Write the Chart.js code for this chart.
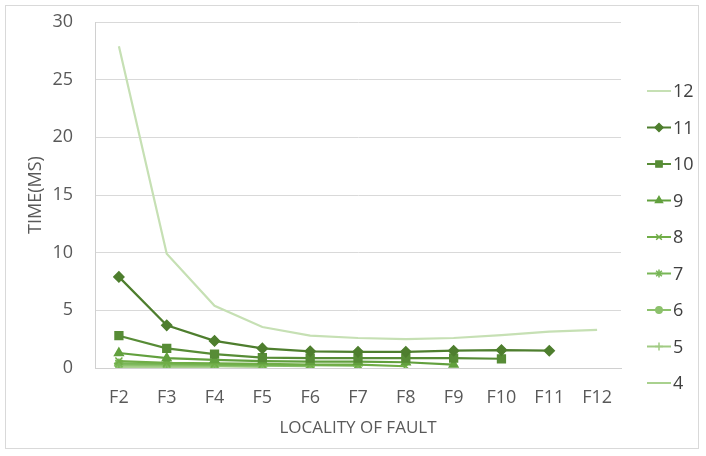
<!DOCTYPE html>
<html>
<head>
<meta charset="utf-8">
<script src="https://cdn.jsdelivr.net/npm/chart.js@4/dist/chart.umd.min.js"></script>
<style>
  html, body { margin: 0; padding: 0; background: #fff; }
  #wrap { position: relative; width: 706px; height: 456px; }
  #frame { position: absolute; left: 5px; top: 5px; width: 694px; height: 444px; border: 1px solid #d9d9d9; box-sizing: border-box; }
  #chart { position: absolute; left: 0; top: 0; }
</style>
</head>
<body>
<div id="wrap">
  <div id="frame"></div>
  <canvas id="chart" width="706" height="456"></canvas>
</div>
<script>
// categories (fault locality)
var faults = ['F2', 'F3', 'F4', 'F5', 'F6', 'F7', 'F8', 'F9', 'F10', 'F11', 'F12'];

// series values, time in ms
var s12 = [27.9, 9.9, 5.4, 3.55, 2.8, 2.6, 2.5, 2.6, 2.85, 3.15, 3.3];
var s11 = [7.9, 3.7, 2.35, 1.7, 1.45, 1.4, 1.4, 1.5, 1.55, 1.5];
var s10 = [2.8, 1.7, 1.2, 0.9, 0.85, 0.85, 0.85, 0.85, 0.8];
var s9  = [1.3, 0.85, 0.7, 0.6, 0.55, 0.55, 0.5, 0.3];
var s8  = [0.6, 0.45, 0.4, 0.35, 0.3, 0.3, 0.15];
var s7  = [0.4, 0.35, 0.3, 0.25, 0.25, 0.2];
var s6  = [0.3, 0.25, 0.2, 0.2, 0.15];
var s5  = [0.2, 0.15, 0.15, 0.1];
var s4  = [0.1, 0.1, 0.1];

var yTicks = [0, 5, 10, 15, 20, 25, 30];

var series = [
  { label: '12', data: s12, color: '#c6e0b4', marker: false,      radius: 0 },
  { label: '11', data: s11, color: '#4e7e2e', marker: 'rectRot',  radius: 5 },
  { label: '10', data: s10, color: '#578c36', marker: 'rect',     radius: 5.5 },
  { label: '9',  data: s9,  color: '#62a03e', marker: 'triangle', radius: 5 },
  { label: '8',  data: s8,  color: '#70ad47', marker: 'crossRot', radius: 5 },
  { label: '7',  data: s7,  color: '#78b657', marker: 'star',     radius: 5 },
  { label: '6',  data: s6,  color: '#8cc16c', marker: 'circle',   radius: 4 },
  { label: '5',  data: s5,  color: '#a0cb83', marker: 'cross',    radius: 5 },
  { label: '4',  data: s4,  color: '#a9d18e', marker: 'dash',     radius: 5 }
];

var FONT = 'Open Sans';

var datasets = series.map(function (s) {
  return {
    label: s.label,
    data: s.data,
    borderColor: s.color,
    backgroundColor: s.color,
    borderWidth: 2.2,
    pointStyle: s.marker || 'circle',
    pointRadius: s.radius,
    pointBorderWidth: 1.5,
    pointHoverRadius: s.radius,
    tension: 0,
    marker: s.marker,
    markerRadius: s.radius
  };
});

// right-hand legend: short line with the series marker, then the label
var sideLegend = {
  id: 'sideLegend',
  afterDraw: function (ch) {
    var g = ch.ctx;
    g.save();
    g.font = '18px "' + FONT + '"';
    g.textBaseline = 'middle';
    g.textAlign = 'left';
    ch.data.datasets.forEach(function (d, i) {
      var y = 91 + i * 36.5;
      g.strokeStyle = d.borderColor;
      g.fillStyle = d.borderColor;
      g.lineWidth = 2;
      g.beginPath();
      g.moveTo(647, y); g.lineTo(671, y);
      g.stroke();
      if (d.marker && Chart.helpers && Chart.helpers.drawPoint) {
        g.lineWidth = 1.5;
        Chart.helpers.drawPoint(g, { pointStyle: d.marker, rotation: 0, radius: d.markerRadius * 0.8, borderWidth: 1.5 }, 659, y);
      }
      g.fillStyle = '#404040';
      g.fillText(d.label, 673, y + 1);
    });
    g.restore();
  }
};

var ctx = document.getElementById('chart').getContext('2d');
var chart = new Chart(ctx, {
  type: 'line',
  data: { labels: faults, datasets: datasets },
  plugins: [sideLegend],
  options: {
    responsive: false,
    animation: false,
    devicePixelRatio: 1,
    layout: { padding: { left: 25, right: 85, top: 22, bottom: 14 } },
    scales: {
      x: {
        offset: true,
        grid: { display: false, drawTicks: false },
        border: { color: '#d0d0d0', width: 1 },
        ticks: { color: '#595959', font: { family: FONT, size: 18 }, padding: 19 },
        title: {
          display: true, text: 'LOCALITY OF FAULT', color: '#595959',
          font: { family: FONT, size: 17 }, padding: { top: 4, bottom: 4 }
        },
        afterFit: function (axis) { axis.height = 74; }
      },
      y: {
        min: 0, max: 30,
        afterBuildTicks: function (axis) { axis.ticks = yTicks.map(function (v) { return { value: v }; }); },
        grid: { color: '#d9d9d9', drawTicks: false },
        border: { color: '#d0d0d0', width: 1 },
        ticks: { color: '#595959', font: { family: FONT, size: 18 }, padding: 22 },
        title: {
          display: true, text: 'TIME(MS)', color: '#595959',
          font: { family: FONT, size: 18 }, padding: { top: 0, bottom: 0 }
        },
        afterFit: function (axis) {
          axis.width = 70;
          axis.paddingTop = 0;
          axis.paddingBottom = 0;
        }
      }
    },
    plugins: {
      tooltip: { enabled: false },
      legend: { display: false }
    }
  }
});
</script>
</body>
</html>
